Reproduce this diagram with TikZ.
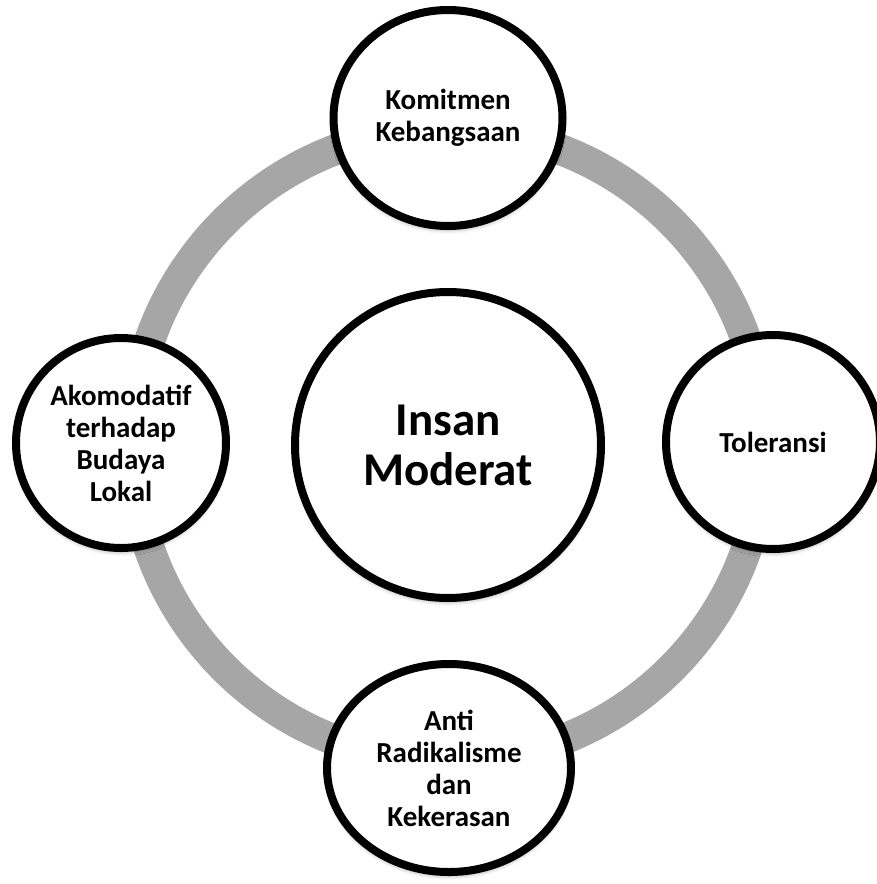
\documentclass[tikz,border=0pt]{standalone}
\usepackage{fontspec}
\setmainfont{Carlito}
\usepackage{tikz}
\usetikzlibrary{shapes.geometric,shadows.blur}
\tikzset{bubble/.style={ellipse,draw=black,line width=8pt,fill=white,align=center,inner sep=0pt,font=\bfseries\fontsize{29pt}{32pt}\selectfont,blur shadow={shadow xshift=0pt,shadow yshift=-4pt,shadow blur radius=4pt,shadow opacity=35}}}
\tikzset{hubnode/.style={bubble,font=\bfseries\fontsize{47pt}{50pt}\selectfont}}
\tikzset{ring/.style={line width=31pt,draw=black!35}}

\begin{document}
\begin{tikzpicture}[x=1pt,y=-1pt]
%frame of the picture
\useasboundingbox (0,0) rectangle (877,884);
\coordinate (mid) at (448,445);
\draw[ring] (mid) circle[radius=316pt];
\node (hub) at (mid)[hubnode,minimum width=306pt,minimum height=306pt]{Insan\\Moderat};
\node (top) at (448,118)[bubble,minimum width=229pt,minimum height=216pt]{Komitmen\\Kebangsaan};
\node (left) at (121,443)[bubble,minimum width=210pt,minimum height=210pt]{Akomodatif\\terhadap\\Budaya\\Lokal};
\node (right) at (773,442)[bubble,minimum width=214pt,minimum height=214pt]{Toleransi};
\node (bottom) at (449,768)[bubble,minimum width=244pt,minimum height=208pt]{Anti\\Radikalisme\\dan\\Kekerasan};
\end{tikzpicture}
\end{document}
